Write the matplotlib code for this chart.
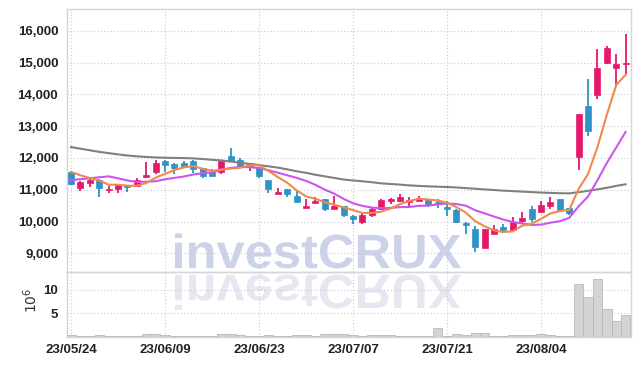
import numpy as np
import matplotlib
matplotlib.use("Agg")
import matplotlib.pyplot as plt
from matplotlib.textpath import TextPath
from matplotlib.patches import PathPatch
from matplotlib.font_manager import FontProperties
from matplotlib.transforms import Affine2D, IdentityTransform
from matplotlib.ticker import FuncFormatter

# ---------------- data ----------------
dates = ["23/05/24", "23/06/09", "23/06/23", "23/07/07", "23/07/21", "23/08/04"]
date_idx = [0, 10, 20, 30, 40, 50]

opens = [11550, 11040, 11220, 11300, 10990, 11030, 11150, 11130, 11390, 11570,
         11900, 11810, 11830, 11910, 11670, 11550, 11570, 12070, 11930, 11730,
         11680, 11310, 10860, 11010, 10800, 10430, 10590, 10700, 10390, 10480,
         10180, 10000, 10200, 10380, 10650, 10640, 10600, 10640, 10670, 10610,
         10450, 10360, 9960, 9760, 9180, 9620, 9830, 9730, 10020, 10390,
         10310, 10500, 10700, 10420, 12020, 13630, 13990, 14990, 14830, 14960]
highs = [11600, 11260, 11390, 11350, 11110, 11190, 11160, 11370, 11860, 11930,
         11920, 11840, 11900, 11930, 11680, 11640, 11910, 12300, 11990, 11840,
         11720, 11320, 11060, 11030, 10970, 10700, 10760, 10720, 10810, 10490,
         10190, 10260, 10450, 10710, 10730, 10860, 10760, 10800, 10700, 10700,
         10650, 10380, 9970, 9870, 9770, 9880, 9920, 10130, 10290, 10480,
         10640, 10760, 10700, 10430, 13390, 14480, 15410, 15520, 15260, 15890]
lows = [11150, 10970, 11075, 10780, 10890, 10890, 10940, 11120, 11380, 11490,
        11570, 11490, 11700, 11520, 11380, 11430, 11490, 11860, 11750, 11600,
        11380, 10890, 10850, 10780, 10610, 10420, 10540, 10330, 10380, 10150,
        9920, 9910, 10140, 10370, 10550, 10620, 10470, 10630, 10470, 10420,
        10170, 9940, 9600, 9050, 9180, 9610, 9660, 9720, 9960, 10000,
        10270, 10390, 10360, 10220, 11620, 12700, 13840, 14960, 14260, 14650]
closes = [11170, 11250, 11300, 11040, 11020, 11180, 11090, 11300, 11460, 11850,
          11790, 11690, 11720, 11660, 11440, 11440, 11900, 11900, 11760, 11830,
          11440, 11030, 10930, 10870, 10620, 10500, 10650, 10380, 10490, 10200,
          10070, 10200, 10390, 10680, 10710, 10760, 10690, 10740, 10560, 10570,
          10390, 10000, 9880, 9210, 9760, 9760, 9740, 9980, 10100, 10070,
          10520, 10600, 10360, 10260, 13380, 12860, 14820, 15450, 14950, 14990]
# closes of the 9 sessions before the window (read back from the MA lines)
prior_closes = [10950, 11000, 10740, 10720, 11790, 11785, 11725, 11430, 11690]
# volume, millions of shares
volume = [0.45, 0.2, 0.2, 0.4, 0.15, 0.15, 0.15, 0.2, 0.6, 0.6,
          0.3, 0.15, 0.15, 0.15, 0.15, 0.25, 0.6, 0.6, 0.3, 0.1,
          0.15, 0.4, 0.15, 0.15, 0.3, 0.4, 0.25, 0.5, 0.5, 0.5,
          0.45, 0.2, 0.35, 0.4, 0.35, 0.15, 0.15, 0.2, 0.2, 1.8,
          0.2, 0.5, 0.35, 0.7, 0.7, 0.2, 0.15, 0.3, 0.35, 0.35,
          0.55, 0.35, 0.2, 0.2, 11.3, 8.4, 12.3, 6.0, 3.4, 4.7]
# long-term moving average
ma_long = [12340, 12290, 12240, 12190, 12150, 12110, 12075, 12050, 12030, 12015,
           12005, 12000, 11995, 11985, 11965, 11940, 11920, 11885, 11850, 11810,
           11775, 11735, 11695, 11640, 11580, 11530, 11470, 11420, 11370, 11320,
           11290, 11265, 11235, 11200, 11180, 11160, 11135, 11120, 11105, 11095,
           11085, 11070, 11050, 11030, 11010, 10990, 10970, 10955, 10940, 10925,
           10910, 10900, 10890, 10885, 10920, 10965, 11010, 11060, 11120, 11170]
yticks = [9000, 10000, 11000, 12000, 13000, 14000, 15000, 16000]
vticks = [5, 10]

# ---------------- derived ----------------
n = len(closes)
x = np.arange(n)
allc = np.array(prior_closes + closes, dtype=float)
ma5 = np.convolve(allc, np.ones(5) / 5, mode="valid")[-n:]
ma10 = np.convolve(allc, np.ones(10) / 10, mode="valid")[-n:]
o = np.array(opens, float); c = np.array(closes, float)
h = np.array(highs, float); l = np.array(lows, float)
up = c >= o

UP = "#e5196b"
DOWN = "#2f93c6"
GRID = "#c8c8dc"
SPINE = "#d6d6d6"

tick_font = FontProperties(family=["Liberation Sans", "DejaVu Sans"], weight="bold", size=9.5)

fig = plt.figure(figsize=(6.39, 3.66), dpi=100)
fig.patch.set_facecolor("white")
L, R = 66.5 / 639, 630.5 / 639
ax = fig.add_axes([L, 1 - 272 / 366, R - L, (272 - 9.3) / 366])
axv = fig.add_axes([L, 1 - 336.7 / 366, R - L, (336.7 - 272) / 366], sharex=ax)
for a in (ax, axv):
    a.patch.set_alpha(0)
    for s in a.spines.values():
        s.set_color(SPINE)
        s.set_linewidth(1.0)
    a.grid(True, color=GRID, linestyle=(0, (1, 2)), linewidth=0.8)
    a.set_axisbelow(True)
    a.tick_params(length=0, colors="#222222")

# watermark
wm_prop = FontProperties(family="Liberation Sans", weight="bold")
tp = TextPath((0, 0), "investCRUX", size=1, prop=wm_prop)
ext = tp.get_extents()
sx = 286 / ext.width
sy = 35 / 0.73
x0 = 175 - ext.x0 * sx
base = 366 - 268
t1 = Affine2D().scale(sx, sy).translate(x0, base)
p1 = PathPatch(t1.transform_path(tp), facecolor="#ccd3e8", edgecolor="none", zorder=-5)
p1.set_transform(IdentityTransform())
fig.add_artist(p1)
base2 = 366 - 275
t2 = Affine2D().scale(sx, -sy).translate(x0, base2)
p2 = PathPatch(t2.transform_path(tp), facecolor="#e6e8f1", edgecolor="none", zorder=-5)
p2.set_transform(IdentityTransform())
fig.add_artist(p2)

# candles
colors = np.where(up, UP, DOWN)
ax.vlines(x, l, h, colors=colors, linewidth=1.3, zorder=3)
body_bottom = np.minimum(o, c)
body_h = np.maximum(np.abs(c - o), 25)
ax.bar(x, body_h, bottom=body_bottom, width=0.64, color=colors, edgecolor=colors,
       linewidth=0.5, zorder=4)

# moving averages
ax.plot(x, ma_long, color="#808080", linewidth=1.5, zorder=5)
ax.plot(x, ma10, color="#cc55ee", linewidth=1.5, zorder=5)
ax.plot(x, ma5, color="#f08a4b", linewidth=1.5, zorder=6)

ax.set_xlim(-0.48, 59.52)
ax.set_ylim(8412, 16673)
ax.set_yticks(yticks)
ax.yaxis.set_major_formatter(FuncFormatter(lambda v, p: f"{int(v):,}"))
for t in ax.get_yticklabels():
    t.set_fontproperties(tick_font)
ax.tick_params(axis="y", pad=6)
ax.tick_params(axis="x", labelbottom=False)

# volume
axv.bar(x, volume, width=1.0, color="#d4d4d4", edgecolor="#b8b8b8", linewidth=0.6, zorder=3)
axv.set_ylim(0, 13.85)
axv.set_yticks(vticks)
axv.set_xticks(date_idx)
axv.set_xticklabels(dates)
for t in axv.get_yticklabels() + axv.get_xticklabels():
    t.set_fontproperties(tick_font)
axv.tick_params(axis="y", pad=6)
axv.tick_params(axis="x", pad=5)
fig.text(31 / 639, 1 - 300 / 366, r"$10^6$", rotation=90, ha="center", va="center",
         fontsize=10, color="#333333")

fig.savefig("out.png", dpi=100, facecolor="white")
